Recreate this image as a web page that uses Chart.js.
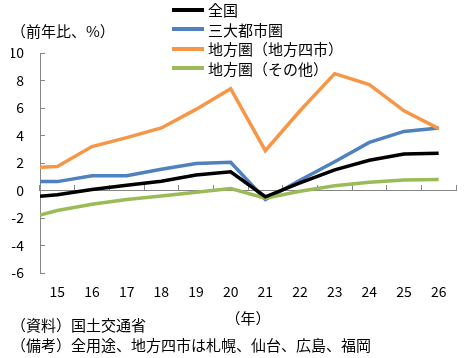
<!DOCTYPE html>
<html>
<head>
<meta charset="utf-8">
<script src="https://cdn.jsdelivr.net/npm/chart.js@4/dist/chart.umd.min.js"></script>
<style>
  html, body { margin: 0; padding: 0; background: #fff; }
  #wrap { position: relative; width: 470px; height: 358px; }
  #legend { position: absolute; left: 172px; top: 0px; font-family: 'Noto Sans CJK JP', sans-serif; font-size: 15px; color: #000; }
  .item { height: 19.5px; line-height: 19.5px; display: flex; align-items: center; white-space: nowrap; }
  .swatch { width: 32px; height: 4px; margin-right: 4px; }
</style>
</head>
<body>
<div id="wrap">
  <canvas id="c" width="470" height="358"></canvas>
  <div id="legend"></div>
</div>
<script>
// ---- data ----
const xValues = [14.5, 15, 16, 17, 18, 19, 20, 21, 22, 23, 24, 25, 26];
const yearTicks = [15, 16, 17, 18, 19, 20, 21, 22, 23, 24, 25, 26];
const yearLabels = ['15', '16', '17', '18', '19', '20', '21', '22', '23', '24', '25', '26'];
const seriesNames = ['全国', '三大都市圏', '地方圏（地方四市）', '地方圏（その他）'];
const zenkoku   = [-0.42, -0.3, 0.07, 0.38, 0.68, 1.13, 1.37, -0.45, 0.55, 1.5, 2.2, 2.65, 2.72];
const sandai    = [0.65, 0.65, 1.08, 1.08, 1.55, 1.97, 2.05, -0.65, 0.75, 2.1, 3.5, 4.3, 4.55];
const chihou4   = [1.7, 1.75, 3.2, 3.85, 4.55, 5.9, 7.4, 2.9, 5.8, 8.5, 7.7, 5.8, 4.5];
const chihouEtc = [-1.78, -1.45, -1.0, -0.65, -0.4, -0.13, 0.15, -0.55, -0.05, 0.35, 0.6, 0.77, 0.8];
const yMin = -6, yMax = 10, yStep = 2;
const titleText = '（前年比、%）';
const xTitle = '（年）';
const notes = ['（資料）国土交通省', '（備考）全用途、地方四市は札幌、仙台、広島、福岡'];

const colors = ['#000000', '#4F81BD', '#F79646', '#9BBB59'];
const seriesData = [zenkoku, sandai, chihou4, chihouEtc];
const FONT = "'Noto Sans CJK JP', sans-serif";
const AXIS = '#868686';

const setTicks = s => { s.ticks = yearTicks.map(v => ({ value: v })); };

const chart = new Chart(document.getElementById('c'), {
  type: 'line',
  data: {
    datasets: seriesNames.map((name, i) => ({
      label: name,
      data: xValues.map((x, j) => ({ x: x, y: seriesData[i][j] })),
      borderColor: colors[i],
      backgroundColor: colors[i],
      borderWidth: 3.5,
      pointRadius: 0,
      tension: 0,
      fill: false,
      xAxisID: 'x',
      yAxisID: 'y',
      order: i === 0 ? 0 : 4 - i
    }))
  },
  options: {
    responsive: false,
    animation: false,
    devicePixelRatio: 1,
    layout: { padding: { left: 11, right: 14, top: 0, bottom: 2 } },
    plugins: {
      legend: { display: false },
      tooltip: { enabled: false },
      title: {
        display: true, text: titleText, align: 'start', color: '#000',
        font: { family: FONT, size: 15, weight: 'normal', lineHeight: 1.2 },
        padding: { top: 22, bottom: 13 }
      },
      subtitle: {
        display: true, text: notes, position: 'bottom', align: 'start', color: '#000',
        font: { family: FONT, size: 15, weight: 'normal', lineHeight: 1.37 },
        padding: { top: -12, bottom: 0 }
      }
    },
    scales: {
      x: {
        type: 'linear', position: 'bottom', min: 14.5, max: 26.5,
        afterBuildTicks: setTicks,
        grid: { display: false, drawTicks: false },
        border: { display: false },
        ticks: {
          padding: 10, color: '#000', autoSkip: false, maxRotation: 0,
          font: { family: FONT, size: 14 },
          callback: v => yearLabels[yearTicks.indexOf(v)]
        },
        title: {
          display: true, text: xTitle, color: '#000',
          font: { family: FONT, size: 15, lineHeight: 1.2 },
          padding: { top: -1, bottom: 0 }
        }
      },
      x2: {
        type: 'linear', position: { y: 0 }, min: 14.5, max: 26.5,
        afterBuildTicks: setTicks,
        ticks: { display: false },
        grid: { offset: true, drawOnChartArea: false, tickLength: -6, color: AXIS, lineWidth: 1 },
        border: { color: AXIS, width: 1 }
      },
      y: {
        min: yMin, max: yMax,
        afterFit: s => { s.width = 29; },
        ticks: { stepSize: yStep, padding: 21, color: '#000', font: { family: FONT, size: 14 } },
        grid: { drawOnChartArea: false, tickLength: -5, color: AXIS, lineWidth: 1 },
        border: { color: AXIS, width: 1 }
      }
    }
  }
});

// HTML legend built from the chart's datasets
const lg = document.getElementById('legend');
chart.data.datasets.forEach(ds => {
  const row = document.createElement('div');
  row.className = 'item';
  const sw = document.createElement('span');
  sw.className = 'swatch';
  sw.style.background = ds.borderColor;
  const tx = document.createElement('span');
  tx.textContent = ds.label;
  row.appendChild(sw); row.appendChild(tx);
  lg.appendChild(row);
});
</script>
</body>
</html>
